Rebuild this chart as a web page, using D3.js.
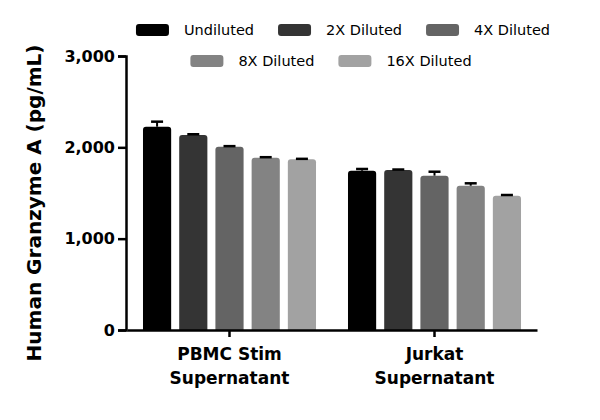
<!DOCTYPE html>
<html>
<head>
<meta charset="utf-8">
<script src="https://cdn.jsdelivr.net/npm/d3@7"></script>
<style>
  body { margin: 0; background: #fff; }
  text { font-family: "DejaVu Sans", sans-serif; fill: #000; }
</style>
</head>
<body>
<div id="chart"></div>
<script>
// chart values
const groups = ["PBMC Stim\nSupernatant", "Jurkat\nSupernatant"];
const dilutions = ["Undiluted", "2X Diluted", "4X Diluted", "8X Diluted", "16X Diluted"];
const barColors = ["#000000", "#343434", "#646464", "#838383", "#a2a2a2"];
const meanPBMC = [2226, 2135, 2007, 1887, 1869];
const sdPBMC = [55, 8, 6, 5, 5];
const meanJurkat = [1744, 1752, 1690, 1580, 1471];
const sdJurkat = [19, 5, 43, 26, 7];
const yTicks = [0, 1000, 2000, 3000];

function drawChart(container) {
    const width = 600;
    const height = 420;

    const rows = [
        {group: groups[0], mean: meanPBMC, sd: sdPBMC},
        {group: groups[1], mean: meanJurkat, sd: sdJurkat}
    ];

    const svg = d3.select(container).append("svg")
        .attr("width", width)
        .attr("height", height);

    const x0 = d3.scaleBand()
        .domain(groups)
        .range([127, 537])
        .paddingInner(0.156)
        .paddingOuter(0.078);

    const x1 = d3.scaleBand()
        .domain(dilutions)
        .range([0, x0.bandwidth()])
        .paddingInner(0.222)
        .paddingOuter(0);

    const y = d3.scaleLinear()
        .domain([0, 3000])
        .range([330, 56]);

    const color = d3.scaleOrdinal(dilutions, barColors);

    // bars
    const g = svg.append("g")
        .selectAll("g")
        .data(rows)
        .join("g")
        .attr("transform", d => `translate(${x0(d.group)},0)`);

    const items = g.selectAll("g")
        .data(d => dilutions.map((k, i) => ({key: k, mean: d.mean[i], sd: d.sd[i]})))
        .join("g");

    items.append("path")
        .attr("fill", d => color(d.key))
        .attr("d", d => {
            const bx = x1(d.key), bw = x1.bandwidth();
            const top = y(d.mean), bot = y(0), r = 3;
            return `M${bx},${bot}V${top + r}Q${bx},${top} ${bx + r},${top}H${bx + bw - r}Q${bx + bw},${top} ${bx + bw},${top + r}V${bot}Z`;
        });

    // error bars (upper part is what shows)
    items.append("line")
        .attr("x1", d => x1(d.key) + x1.bandwidth() / 2)
        .attr("x2", d => x1(d.key) + x1.bandwidth() / 2)
        .attr("y1", d => y(d.mean))
        .attr("y2", d => y(d.mean + d.sd))
        .attr("stroke", "#000")
        .attr("stroke-width", 2);

    items.append("line")
        .attr("x1", d => x1(d.key) + x1.bandwidth() / 2 - 6)
        .attr("x2", d => x1(d.key) + x1.bandwidth() / 2 + 6)
        .attr("y1", d => y(d.mean + d.sd))
        .attr("y2", d => y(d.mean + d.sd))
        .attr("stroke", "#000")
        .attr("stroke-width", 2.5);

    // y axis
    const yAxis = svg.append("g")
        .attr("transform", "translate(126,0)")
        .call(d3.axisLeft(y).tickValues(yTicks).tickSize(8).tickPadding(3).tickFormat(d3.format(",")));
    yAxis.select(".domain").attr("stroke-width", 2.5);
    yAxis.selectAll(".tick line").attr("stroke-width", 2.5);
    yAxis.selectAll(".tick text")
        .attr("font-family", "DejaVu Sans")
        .attr("font-size", 16)
        .attr("font-weight", "bold")
        .attr("fill", "#000");

    // x axis
    const xAxis = svg.append("g")
        .attr("transform", "translate(0,330)")
        .call(d3.axisBottom(x0).tickSize(7).tickSizeOuter(0).tickFormat(""));
    xAxis.select(".domain").attr("stroke-width", 2.5);
    xAxis.selectAll(".tick line").attr("stroke-width", 2.5);

    xAxis.selectAll(".tick")
        .append("text")
        .attr("fill", "#000")
        .attr("font-size", 17)
        .attr("font-weight", "bold")
        .attr("text-anchor", "middle")
        .selectAll("tspan")
        .data(d => d.split("\n"))
        .join("tspan")
        .attr("x", 0)
        .attr("y", (d, i) => 30 + i * 24)
        .text(d => d);

    // y title
    svg.append("text")
        .attr("transform", "translate(41,203) rotate(-90)")
        .attr("text-anchor", "middle")
        .attr("font-size", 20)
        .attr("font-weight", "bold")
        .text("Human Granzyme A (pg/mL)");

    // legend, two centred rows
    const legendRows = [dilutions.slice(0, 3), dilutions.slice(3)];
    const rowY = [30, 61];
    const rowCenter = [343, 331];
    legendRows.forEach((keys, r) => {
        const lg = svg.append("g");
        let cx = 0;
        keys.forEach(k => {
            const it = lg.append("g").attr("transform", `translate(${cx},0)`);
            it.append("rect")
                .attr("x", 0)
                .attr("y", rowY[r] - 6)
                .attr("width", 33)
                .attr("height", 12)
                .attr("rx", 3)
                .attr("fill", color(k));
            const t = it.append("text")
                .attr("x", 48)
                .attr("y", rowY[r] + 5)
                .attr("font-size", 14.5)
                .attr("fill", "#222")
                .text(k);
            cx += 48 + t.node().getComputedTextLength() + 24;
        });
        const w = cx - 24;
        lg.attr("transform", `translate(${rowCenter[r] - w / 2},0)`);
    });
}

drawChart("#chart");
</script>
</body>
</html>
